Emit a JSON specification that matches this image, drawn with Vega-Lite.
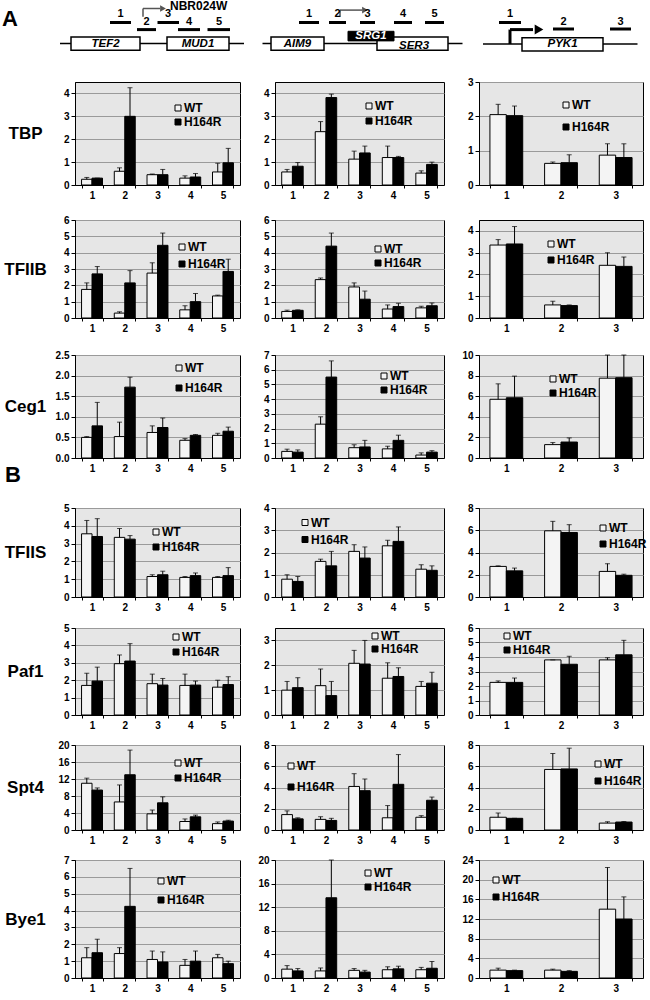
{
"$schema":"https://vega.github.io/schema/vega-lite/v6.json",
"background":"white",
"padding":{"left":2,"top":0,"right":0,"bottom":2},
"columns":3,
"align":"each",
"bounds":"flush",
"spacing":{"row":0,"column":35},
"resolve":{"scale":{"color":"independent","xOffset":"independent"},"legend":{"color":"independent"}},
"datasets":{"d":[
{"p":"TBP1","r":"1","s":"WT","v":0.25,"hi":0.33},{"p":"TBP1","r":"2","s":"WT","v":0.6,"hi":0.75},{"p":"TBP1","r":"3","s":"WT","v":0.45,"hi":0.48},{"p":"TBP1","r":"4","s":"WT","v":0.3,"hi":0.4},{"p":"TBP1","r":"5","s":"WT","v":0.57,"hi":0.95},
{"p":"TBP1","r":"1","s":"H164R","v":0.3,"hi":0.3},{"p":"TBP1","r":"2","s":"H164R","v":3.0,"hi":4.25},{"p":"TBP1","r":"3","s":"H164R","v":0.45,"hi":0.68},{"p":"TBP1","r":"4","s":"H164R","v":0.35,"hi":0.5},{"p":"TBP1","r":"5","s":"H164R","v":0.97,"hi":1.6},
{"p":"TBP2","r":"1","s":"WT","v":0.57,"hi":0.68},{"p":"TBP2","r":"2","s":"WT","v":2.33,"hi":2.77},{"p":"TBP2","r":"3","s":"WT","v":1.13,"hi":1.48},{"p":"TBP2","r":"4","s":"WT","v":1.2,"hi":1.7},{"p":"TBP2","r":"5","s":"WT","v":0.52,"hi":0.62},
{"p":"TBP2","r":"1","s":"H164R","v":0.82,"hi":0.98},{"p":"TBP2","r":"2","s":"H164R","v":3.82,"hi":3.97},{"p":"TBP2","r":"3","s":"H164R","v":1.4,"hi":1.7},{"p":"TBP2","r":"4","s":"H164R","v":1.2,"hi":1.25},{"p":"TBP2","r":"5","s":"H164R","v":0.9,"hi":1.0},
{"p":"TBP3","r":"1","s":"WT","v":2.05,"hi":2.35},{"p":"TBP3","r":"2","s":"WT","v":0.63,"hi":0.67},{"p":"TBP3","r":"3","s":"WT","v":0.87,"hi":1.2},
{"p":"TBP3","r":"1","s":"H164R","v":2.02,"hi":2.3},{"p":"TBP3","r":"2","s":"H164R","v":0.65,"hi":0.88},{"p":"TBP3","r":"3","s":"H164R","v":0.8,"hi":1.2},
{"p":"TFIIB1","r":"1","s":"WT","v":1.75,"hi":2.15},{"p":"TFIIB1","r":"2","s":"WT","v":0.3,"hi":0.38},{"p":"TFIIB1","r":"3","s":"WT","v":2.75,"hi":3.38},{"p":"TFIIB1","r":"4","s":"WT","v":0.5,"hi":0.75},{"p":"TFIIB1","r":"5","s":"WT","v":1.35,"hi":1.4},
{"p":"TFIIB1","r":"1","s":"H164R","v":2.7,"hi":3.15},{"p":"TFIIB1","r":"2","s":"H164R","v":2.15,"hi":2.9},{"p":"TFIIB1","r":"3","s":"H164R","v":4.45,"hi":5.2},{"p":"TFIIB1","r":"4","s":"H164R","v":1.0,"hi":1.5},{"p":"TFIIB1","r":"5","s":"H164R","v":2.85,"hi":3.6},
{"p":"TFIIB2","r":"1","s":"WT","v":0.4,"hi":0.48},{"p":"TFIIB2","r":"2","s":"WT","v":2.35,"hi":2.45},{"p":"TFIIB2","r":"3","s":"WT","v":1.9,"hi":2.15},{"p":"TFIIB2","r":"4","s":"WT","v":0.55,"hi":0.8},{"p":"TFIIB2","r":"5","s":"WT","v":0.62,"hi":0.72},
{"p":"TFIIB2","r":"1","s":"H164R","v":0.47,"hi":0.5},{"p":"TFIIB2","r":"2","s":"H164R","v":4.4,"hi":5.2},{"p":"TFIIB2","r":"3","s":"H164R","v":1.15,"hi":1.65},{"p":"TFIIB2","r":"4","s":"H164R","v":0.7,"hi":0.9},{"p":"TFIIB2","r":"5","s":"H164R","v":0.75,"hi":0.92},
{"p":"TFIIB3","r":"1","s":"WT","v":3.35,"hi":3.6},{"p":"TFIIB3","r":"2","s":"WT","v":0.6,"hi":0.77},{"p":"TFIIB3","r":"3","s":"WT","v":2.42,"hi":3.0},
{"p":"TFIIB3","r":"1","s":"H164R","v":3.4,"hi":4.2},{"p":"TFIIB3","r":"2","s":"H164R","v":0.57,"hi":0.6},{"p":"TFIIB3","r":"3","s":"H164R","v":2.37,"hi":2.8},
{"p":"Ceg11","r":"1","s":"WT","v":0.5,"hi":0.52},{"p":"Ceg11","r":"2","s":"WT","v":0.52,"hi":0.87},{"p":"Ceg11","r":"3","s":"WT","v":0.62,"hi":0.78},{"p":"Ceg11","r":"4","s":"WT","v":0.43,"hi":0.47},{"p":"Ceg11","r":"5","s":"WT","v":0.55,"hi":0.6},
{"p":"Ceg11","r":"1","s":"H164R","v":0.78,"hi":1.35},{"p":"Ceg11","r":"2","s":"H164R","v":1.72,"hi":1.96},{"p":"Ceg11","r":"3","s":"H164R","v":0.74,"hi":0.97},{"p":"Ceg11","r":"4","s":"H164R","v":0.55,"hi":0.57},{"p":"Ceg11","r":"5","s":"H164R","v":0.65,"hi":0.75},
{"p":"Ceg12","r":"1","s":"WT","v":0.45,"hi":0.6},{"p":"Ceg12","r":"2","s":"WT","v":2.3,"hi":2.8},{"p":"Ceg12","r":"3","s":"WT","v":0.7,"hi":0.9},{"p":"Ceg12","r":"4","s":"WT","v":0.62,"hi":0.8},{"p":"Ceg12","r":"5","s":"WT","v":0.2,"hi":0.35},
{"p":"Ceg12","r":"1","s":"H164R","v":0.4,"hi":0.55},{"p":"Ceg12","r":"2","s":"H164R","v":5.5,"hi":6.6},{"p":"Ceg12","r":"3","s":"H164R","v":0.75,"hi":1.2},{"p":"Ceg12","r":"4","s":"H164R","v":1.2,"hi":1.55},{"p":"Ceg12","r":"5","s":"H164R","v":0.4,"hi":0.5},
{"p":"Ceg13","r":"1","s":"WT","v":5.7,"hi":7.2},{"p":"Ceg13","r":"2","s":"WT","v":1.3,"hi":1.5},{"p":"Ceg13","r":"3","s":"WT","v":7.75,"hi":10},
{"p":"Ceg13","r":"1","s":"H164R","v":5.85,"hi":7.95},{"p":"Ceg13","r":"2","s":"H164R","v":1.55,"hi":1.95},{"p":"Ceg13","r":"3","s":"H164R","v":7.8,"hi":10},
{"p":"TFIIS1","r":"1","s":"WT","v":3.55,"hi":4.3},{"p":"TFIIS1","r":"2","s":"WT","v":3.35,"hi":3.85},{"p":"TFIIS1","r":"3","s":"WT","v":1.15,"hi":1.25},{"p":"TFIIS1","r":"4","s":"WT","v":1.1,"hi":1.15},{"p":"TFIIS1","r":"5","s":"WT","v":1.1,"hi":1.15},
{"p":"TFIIS1","r":"1","s":"H164R","v":3.4,"hi":4.4},{"p":"TFIIS1","r":"2","s":"H164R","v":3.25,"hi":3.45},{"p":"TFIIS1","r":"3","s":"H164R","v":1.25,"hi":1.45},{"p":"TFIIS1","r":"4","s":"H164R","v":1.2,"hi":1.35},{"p":"TFIIS1","r":"5","s":"H164R","v":1.2,"hi":1.65},
{"p":"TFIIS2","r":"1","s":"WT","v":0.8,"hi":1.0},{"p":"TFIIS2","r":"2","s":"WT","v":1.6,"hi":1.7},{"p":"TFIIS2","r":"3","s":"WT","v":2.05,"hi":2.35},{"p":"TFIIS2","r":"4","s":"WT","v":2.3,"hi":2.55},{"p":"TFIIS2","r":"5","s":"WT","v":1.25,"hi":1.45},
{"p":"TFIIS2","r":"1","s":"H164R","v":0.7,"hi":0.92},{"p":"TFIIS2","r":"2","s":"H164R","v":1.4,"hi":2.05},{"p":"TFIIS2","r":"3","s":"H164R","v":1.75,"hi":2.25},{"p":"TFIIS2","r":"4","s":"H164R","v":2.5,"hi":3.15},{"p":"TFIIS2","r":"5","s":"H164R","v":1.2,"hi":1.4},
{"p":"TFIIS3","r":"1","s":"WT","v":2.75,"hi":2.8},{"p":"TFIIS3","r":"2","s":"WT","v":5.95,"hi":6.8},{"p":"TFIIS3","r":"3","s":"WT","v":2.3,"hi":3.0},
{"p":"TFIIS3","r":"1","s":"H164R","v":2.35,"hi":2.6},{"p":"TFIIS3","r":"2","s":"H164R","v":5.8,"hi":6.5},{"p":"TFIIS3","r":"3","s":"H164R","v":1.95,"hi":2.05},
{"p":"Paf11","r":"1","s":"WT","v":1.7,"hi":2.4},{"p":"Paf11","r":"2","s":"WT","v":2.95,"hi":3.45},{"p":"Paf11","r":"3","s":"WT","v":1.8,"hi":2.35},{"p":"Paf11","r":"4","s":"WT","v":1.7,"hi":2.35},{"p":"Paf11","r":"5","s":"WT","v":1.6,"hi":2.0},
{"p":"Paf11","r":"1","s":"H164R","v":1.95,"hi":2.75},{"p":"Paf11","r":"2","s":"H164R","v":3.1,"hi":4.1},{"p":"Paf11","r":"3","s":"H164R","v":1.72,"hi":2.1},{"p":"Paf11","r":"4","s":"H164R","v":1.72,"hi":1.95},{"p":"Paf11","r":"5","s":"H164R","v":1.75,"hi":2.2},
{"p":"Paf12","r":"1","s":"WT","v":1.0,"hi":1.35},{"p":"Paf12","r":"2","s":"WT","v":1.18,"hi":1.85},{"p":"Paf12","r":"3","s":"WT","v":2.08,"hi":2.6},{"p":"Paf12","r":"4","s":"WT","v":1.48,"hi":2.1},{"p":"Paf12","r":"5","s":"WT","v":1.15,"hi":1.35},
{"p":"Paf12","r":"1","s":"H164R","v":1.1,"hi":1.5},{"p":"Paf12","r":"2","s":"H164R","v":0.78,"hi":1.35},{"p":"Paf12","r":"3","s":"H164R","v":2.05,"hi":3.0},{"p":"Paf12","r":"4","s":"H164R","v":1.55,"hi":1.9},{"p":"Paf12","r":"5","s":"H164R","v":1.28,"hi":1.72},
{"p":"Paf13","r":"1","s":"WT","v":2.25,"hi":2.35},{"p":"Paf13","r":"2","s":"WT","v":3.8,"hi":3.8},{"p":"Paf13","r":"3","s":"WT","v":3.8,"hi":3.95},
{"p":"Paf13","r":"1","s":"H164R","v":2.25,"hi":2.55},{"p":"Paf13","r":"2","s":"H164R","v":3.5,"hi":4.05},{"p":"Paf13","r":"3","s":"H164R","v":4.15,"hi":5.15},
{"p":"Spt41","r":"1","s":"WT","v":11,"hi":12.2},{"p":"Spt41","r":"2","s":"WT","v":6.6,"hi":10.6},{"p":"Spt41","r":"3","s":"WT","v":3.8,"hi":4.7},{"p":"Spt41","r":"4","s":"WT","v":2.0,"hi":2.6},{"p":"Spt41","r":"5","s":"WT","v":1.5,"hi":1.9},
{"p":"Spt41","r":"1","s":"H164R","v":9.4,"hi":9.9},{"p":"Spt41","r":"2","s":"H164R","v":13,"hi":18.8},{"p":"Spt41","r":"3","s":"H164R","v":6.4,"hi":7.8},{"p":"Spt41","r":"4","s":"H164R","v":3.1,"hi":3.5},{"p":"Spt41","r":"5","s":"H164R","v":2.1,"hi":2.3},
{"p":"Spt42","r":"1","s":"WT","v":1.45,"hi":1.8},{"p":"Spt42","r":"2","s":"WT","v":1.0,"hi":1.25},{"p":"Spt42","r":"3","s":"WT","v":4.1,"hi":5.3},{"p":"Spt42","r":"4","s":"WT","v":1.15,"hi":2.3},{"p":"Spt42","r":"5","s":"WT","v":1.2,"hi":1.35},
{"p":"Spt42","r":"1","s":"H164R","v":1.05,"hi":1.15},{"p":"Spt42","r":"2","s":"H164R","v":0.9,"hi":1.1},{"p":"Spt42","r":"3","s":"H164R","v":3.7,"hi":4.8},{"p":"Spt42","r":"4","s":"H164R","v":4.3,"hi":7.1},{"p":"Spt42","r":"5","s":"H164R","v":2.8,"hi":3.1},
{"p":"Spt43","r":"1","s":"WT","v":1.2,"hi":1.6},{"p":"Spt43","r":"2","s":"WT","v":5.7,"hi":7.2},{"p":"Spt43","r":"3","s":"WT","v":0.65,"hi":0.78},
{"p":"Spt43","r":"1","s":"H164R","v":1.1,"hi":1.1},{"p":"Spt43","r":"2","s":"H164R","v":5.75,"hi":7.7},{"p":"Spt43","r":"3","s":"H164R","v":0.75,"hi":0.8},
{"p":"Bye11","r":"1","s":"WT","v":1.2,"hi":1.8},{"p":"Bye11","r":"2","s":"WT","v":1.45,"hi":1.8},{"p":"Bye11","r":"3","s":"WT","v":1.1,"hi":1.6},{"p":"Bye11","r":"4","s":"WT","v":0.75,"hi":1.1},{"p":"Bye11","r":"5","s":"WT","v":1.2,"hi":1.4},
{"p":"Bye11","r":"1","s":"H164R","v":1.5,"hi":2.3},{"p":"Bye11","r":"2","s":"H164R","v":4.25,"hi":6.5},{"p":"Bye11","r":"3","s":"H164R","v":0.95,"hi":1.55},{"p":"Bye11","r":"4","s":"H164R","v":1.0,"hi":1.6},{"p":"Bye11","r":"5","s":"H164R","v":0.85,"hi":1.0},
{"p":"Bye12","r":"1","s":"WT","v":1.5,"hi":2.1},{"p":"Bye12","r":"2","s":"WT","v":1.2,"hi":1.7},{"p":"Bye12","r":"3","s":"WT","v":1.3,"hi":1.6},{"p":"Bye12","r":"4","s":"WT","v":1.4,"hi":1.9},{"p":"Bye12","r":"5","s":"WT","v":1.4,"hi":1.8},
{"p":"Bye12","r":"1","s":"H164R","v":1.2,"hi":1.6},{"p":"Bye12","r":"2","s":"H164R","v":13.6,"hi":20},{"p":"Bye12","r":"3","s":"H164R","v":1.0,"hi":1.3},{"p":"Bye12","r":"4","s":"H164R","v":1.55,"hi":2.0},{"p":"Bye12","r":"5","s":"H164R","v":1.65,"hi":2.8},
{"p":"Bye13","r":"1","s":"WT","v":1.6,"hi":2.0},{"p":"Bye13","r":"2","s":"WT","v":1.6,"hi":1.8},{"p":"Bye13","r":"3","s":"WT","v":14,"hi":22.5},
{"p":"Bye13","r":"1","s":"H164R","v":1.5,"hi":1.6},{"p":"Bye13","r":"2","s":"H164R","v":1.35,"hi":1.5},{"p":"Bye13","r":"3","s":"H164R","v":12,"hi":16.5}
]},
"concat":[
{"width":165,"height":46,"view":{"fill":null,"stroke":null},
 "encoding":{"x":{"field":"x","type":"quantitative","scale":{"domain":[75,240],"nice":false,"zero":false},"axis":null},"y":{"field":"y","type":"quantitative","scale":{"domain":[0,46],"nice":false,"zero":false,"reverse":true},"axis":null}},
 "layer":[
  {"data":{"values":[{"x":60,"x2":244,"y":43.6,"y2":43.6}]},"mark":{"type":"rule","strokeWidth":1.5,"color":"#000"},"encoding":{"x2":{"field":"x2"},"y2":{"field":"y2"}}},
  {"data":{"values":[{"x":110,"x2":131,"y":22.5,"y2":22.5},{"x":137,"x2":156,"y":29.6,"y2":29.6},{"x":157.5,"x2":179,"y":22.5,"y2":22.5},{"x":178,"x2":200,"y":29.6,"y2":29.6},{"x":207.5,"x2":230,"y":29.6,"y2":29.6}]},"mark":{"type":"rule","strokeWidth":3,"color":"#000"},"encoding":{"x2":{"field":"x2"},"y2":{"field":"y2"}}},
  {"data":{"values":[{"x":143,"x2":143,"y":16.7,"y2":8.5},{"x":143,"x2":160,"y":8.5,"y2":8.5}]},"mark":{"type":"rule","strokeWidth":1.5,"color":"#555"},"encoding":{"x2":{"field":"x2"},"y2":{"field":"y2"}}},
  {"data":{"values":[{"x":163,"y":8.5}]},"mark":{"type":"point","shape":"triangle-right","filled":true,"size":45,"color":"#555","opacity":1}},
  {"data":{"values":[{"x":71,"x2":140,"y":37,"y2":50.2},{"x":167,"x2":229,"y":37,"y2":50.2}]},"mark":{"type":"rect","fill":"#fff","stroke":"#000","strokeWidth":1.5},"encoding":{"x2":{"field":"x2"},"y2":{"field":"y2"}}},
  {"data":{"values":[{"x":105.5,"y":43.8,"t":"TEF2"},{"x":198,"y":43.8,"t":"MUD1"}]},"mark":{"type":"text","fontStyle":"italic","fontWeight":"bold","fontSize":11.5,"font":"Liberation Sans"},"encoding":{"text":{"field":"t"}}},
  {"data":{"values":[{"x":120.5,"y":14.4,"t":"1"},{"x":146.5,"y":22.2,"t":"2"},{"x":168,"y":14.4,"t":"3"},{"x":189,"y":22.2,"t":"4"},{"x":219,"y":22.2,"t":"5"}]},"mark":{"type":"text","fontWeight":"bold","fontSize":11,"font":"Liberation Sans"},"encoding":{"text":{"field":"t"}}},
  {"data":{"values":[{"x":170,"y":6,"t":"NBR024W"}]},"mark":{"type":"text","fontWeight":"bold","fontSize":12,"align":"left","font":"Liberation Sans"},"encoding":{"text":{"field":"t"}}},
  {"data":{"values":[{"x":10,"y":19,"t":"A"}]},"mark":{"type":"text","fontWeight":"bold","fontSize":22,"font":"Liberation Sans"},"encoding":{"text":{"field":"t"}}}
 ]},
{"width":169,"height":46,"view":{"fill":null,"stroke":null},
 "encoding":{"x":{"field":"x","type":"quantitative","scale":{"domain":[275,444],"nice":false,"zero":false},"axis":null},"y":{"field":"y","type":"quantitative","scale":{"domain":[0,46],"nice":false,"zero":false,"reverse":true},"axis":null}},
 "layer":[
  {"data":{"values":[{"x":262.5,"x2":462.5,"y":43.6,"y2":43.6}]},"mark":{"type":"rule","strokeWidth":1.5,"color":"#000"},"encoding":{"x2":{"field":"x2"},"y2":{"field":"y2"}}},
  {"data":{"values":[{"x":299,"x2":319,"y":22.5,"y2":22.5},{"x":329,"x2":346,"y":22.5,"y2":22.5},{"x":360,"x2":375,"y":22.5,"y2":22.5},{"x":394,"x2":412,"y":22.5,"y2":22.5},{"x":425,"x2":444,"y":22.5,"y2":22.5}]},"mark":{"type":"rule","strokeWidth":3,"color":"#000"},"encoding":{"x2":{"field":"x2"},"y2":{"field":"y2"}}},
  {"data":{"values":[{"x":340,"x2":340,"y":16.7,"y2":10.1},{"x":340,"x2":362,"y":10.1,"y2":10.1}]},"mark":{"type":"rule","strokeWidth":1.5,"color":"#555"},"encoding":{"x2":{"field":"x2"},"y2":{"field":"y2"}}},
  {"data":{"values":[{"x":365,"y":10.1}]},"mark":{"type":"point","shape":"triangle-right","filled":true,"size":45,"color":"#555","opacity":1}},
  {"data":{"values":[{"x":271,"x2":324,"y":37,"y2":50.2},{"x":377,"x2":448,"y":37,"y2":50.2}]},"mark":{"type":"rect","fill":"#fff","stroke":"#000","strokeWidth":1.5},"encoding":{"x2":{"field":"x2"},"y2":{"field":"y2"}}},
  {"data":{"values":[{"x":348,"x2":394,"y":31.3,"y2":40.9}]},"mark":{"type":"rect","fill":"#000","stroke":"#000","strokeWidth":1},"encoding":{"x2":{"field":"x2"},"y2":{"field":"y2"}}},
  {"data":{"values":[{"x":297.5,"y":43.8,"t":"AIM9"},{"x":414,"y":45.5,"t":"SER3"}]},"mark":{"type":"text","fontStyle":"italic","fontWeight":"bold","fontSize":11.5,"font":"Liberation Sans"},"encoding":{"text":{"field":"t"}}},
  {"data":{"values":[{"x":371,"y":36.3,"t":"SRG1"}]},"mark":{"type":"text","fontStyle":"italic","fontWeight":"bold","fontSize":11.5,"color":"#fff","font":"Liberation Sans"},"encoding":{"text":{"field":"t"}}},
  {"data":{"values":[{"x":309,"y":14.4,"t":"1"},{"x":337.5,"y":14.4,"t":"2"},{"x":367.5,"y":14.4,"t":"3"},{"x":403,"y":14.4,"t":"4"},{"x":434.5,"y":14.4,"t":"5"}]},"mark":{"type":"text","fontWeight":"bold","fontSize":11,"font":"Liberation Sans"},"encoding":{"text":{"field":"t"}}}
 ]},
{"width":164,"height":46,"view":{"fill":null,"stroke":null},
 "encoding":{"x":{"field":"x","type":"quantitative","scale":{"domain":[479,643],"nice":false,"zero":false},"axis":null},"y":{"field":"y","type":"quantitative","scale":{"domain":[0,46],"nice":false,"zero":false,"reverse":true},"axis":null}},
 "layer":[
  {"data":{"values":[{"x":483,"x2":637.5,"y":44,"y2":44}]},"mark":{"type":"rule","strokeWidth":1.5,"color":"#000"},"encoding":{"x2":{"field":"x2"},"y2":{"field":"y2"}}},
  {"data":{"values":[{"x":499,"x2":521,"y":22.5,"y2":22.5},{"x":553,"x2":574,"y":29,"y2":29},{"x":610,"x2":631,"y":29,"y2":29}]},"mark":{"type":"rule","strokeWidth":3,"color":"#000"},"encoding":{"x2":{"field":"x2"},"y2":{"field":"y2"}}},
  {"data":{"values":[{"x":522,"x2":603,"y":37.8,"y2":51}]},"mark":{"type":"rect","fill":"#fff","stroke":"#000","strokeWidth":1.5},"encoding":{"x2":{"field":"x2"},"y2":{"field":"y2"}}},
  {"data":{"values":[{"x":510,"x2":510,"y":44,"y2":29.6},{"x":510,"x2":533,"y":29.6,"y2":29.6}]},"mark":{"type":"rule","strokeWidth":3,"color":"#000"},"encoding":{"x2":{"field":"x2"},"y2":{"field":"y2"}}},
  {"data":{"values":[{"x":539,"y":29.6}]},"mark":{"type":"point","shape":"triangle-right","filled":true,"size":100,"color":"#000","opacity":1}},
  {"data":{"values":[{"x":562.5,"y":44.4,"t":"PYK1"}]},"mark":{"type":"text","fontStyle":"italic","fontWeight":"bold","fontSize":11.5,"font":"Liberation Sans"},"encoding":{"text":{"field":"t"}}},
  {"data":{"values":[{"x":510,"y":14.4,"t":"1"},{"x":563.5,"y":21.8,"t":"2"},{"x":620.5,"y":21.8,"t":"3"}]},"mark":{"type":"text","fontWeight":"bold","fontSize":11,"font":"Liberation Sans"},"encoding":{"text":{"field":"t"}}}
 ]},
{"width":1,"height":36,"view":{"fill":null,"stroke":null},"data":{"values":[]},"mark":"point","encoding":{}},
{"width":1,"height":36,"view":{"fill":null,"stroke":null},"data":{"values":[]},"mark":"point","encoding":{}},
{"width":1,"height":36,"view":{"fill":null,"stroke":null},"data":{"values":[]},"mark":"point","encoding":{}},
{"width":165,"height":103,"data":{"name":"d"},"transform":[{"filter":"datum.p=='TBP1'"}],
 "encoding":{"x":{"field":"r","type":"nominal","title":null,"scale":{"paddingInner":0.36,"paddingOuter":0.2}},"xOffset":{"field":"s","sort":["WT","H164R"]},"y":{"field":"v","type":"quantitative","scale":{"domain":[0,4.5],"nice":false},"axis":{"values":[0,1,2,3,4],"title":"TBP","titleY":51.5}}},
 "layer":[{"mark":"bar","encoding":{"color":{"field":"s","type":"nominal","scale":{"domain":["WT","H164R"],"range":["#f4f4f4","#000000"]},"legend":{"title":null,"legendX":97,"legendY":20,"rowPadding":2}}}},{"mark":"rule","encoding":{"y2":{"field":"hi"}}},{"mark":{"type":"tick","size":5},"encoding":{"y":{"field":"hi","type":"quantitative"}}}]},
{"width":169,"height":103,"data":{"name":"d"},"transform":[{"filter":"datum.p=='TBP2'"}],
 "encoding":{"x":{"field":"r","type":"nominal","title":null,"scale":{"paddingInner":0.36,"paddingOuter":0.2}},"xOffset":{"field":"s","sort":["WT","H164R"]},"y":{"field":"v","type":"quantitative","scale":{"domain":[0,4.5],"nice":false},"axis":{"values":[0,1,2,3,4],"title":null}}},
 "layer":[{"mark":"bar","encoding":{"color":{"field":"s","type":"nominal","scale":{"domain":["WT","H164R"],"range":["#f4f4f4","#000000"]},"legend":{"title":null,"legendX":88,"legendY":18,"rowPadding":3}}}},{"mark":"rule","encoding":{"y2":{"field":"hi"}}},{"mark":{"type":"tick","size":5},"encoding":{"y":{"field":"hi","type":"quantitative"}}}]},
{"width":164,"height":103,"data":{"name":"d"},"transform":[{"filter":"datum.p=='TBP3'"}],
 "encoding":{"x":{"field":"r","type":"nominal","title":null,"scale":{"paddingInner":0.4,"paddingOuter":0.2}},"xOffset":{"field":"s","sort":["WT","H164R"]},"y":{"field":"v","type":"quantitative","scale":{"domain":[0,3],"nice":false},"axis":{"values":[0,1,2,3],"title":null}}},
 "layer":[{"mark":"bar","encoding":{"color":{"field":"s","type":"nominal","scale":{"domain":["WT","H164R"],"range":["#f4f4f4","#000000"]},"legend":{"title":null,"legendX":81,"legendY":17,"rowPadding":10}}}},{"mark":"rule","encoding":{"y2":{"field":"hi"}}},{"mark":{"type":"tick","size":5},"encoding":{"y":{"field":"hi","type":"quantitative"}}}]},
{"width":1,"height":35,"view":{"fill":null,"stroke":null},"data":{"values":[]},"mark":"point","encoding":{}},
{"width":1,"height":35,"view":{"fill":null,"stroke":null},"data":{"values":[]},"mark":"point","encoding":{}},
{"width":1,"height":35,"view":{"fill":null,"stroke":null},"data":{"values":[]},"mark":"point","encoding":{}},
{"width":165,"height":98,"data":{"name":"d"},"transform":[{"filter":"datum.p=='TFIIB1'"}],
 "encoding":{"x":{"field":"r","type":"nominal","title":null,"scale":{"paddingInner":0.36,"paddingOuter":0.2}},"xOffset":{"field":"s","sort":["WT","H164R"]},"y":{"field":"v","type":"quantitative","scale":{"domain":[0,6],"nice":false},"axis":{"values":[0,1,2,3,4,5,6],"title":"TFIIB","titleY":49}}},
 "layer":[{"mark":"bar","encoding":{"color":{"field":"s","type":"nominal","scale":{"domain":["WT","H164R"],"range":["#f4f4f4","#000000"]},"legend":{"title":null,"legendX":101,"legendY":21,"rowPadding":5}}}},{"mark":"rule","encoding":{"y2":{"field":"hi"}}},{"mark":{"type":"tick","size":5},"encoding":{"y":{"field":"hi","type":"quantitative"}}}]},
{"width":169,"height":98,"data":{"name":"d"},"transform":[{"filter":"datum.p=='TFIIB2'"}],
 "encoding":{"x":{"field":"r","type":"nominal","title":null,"scale":{"paddingInner":0.36,"paddingOuter":0.2}},"xOffset":{"field":"s","sort":["WT","H164R"]},"y":{"field":"v","type":"quantitative","scale":{"domain":[0,6],"nice":false},"axis":{"values":[0,1,2,3,4,5,6],"title":null}}},
 "layer":[{"mark":"bar","encoding":{"color":{"field":"s","type":"nominal","scale":{"domain":["WT","H164R"],"range":["#f4f4f4","#000000"]},"legend":{"title":null,"legendX":97,"legendY":23,"rowPadding":2}}}},{"mark":"rule","encoding":{"y2":{"field":"hi"}}},{"mark":{"type":"tick","size":5},"encoding":{"y":{"field":"hi","type":"quantitative"}}}]},
{"width":164,"height":98,"data":{"name":"d"},"transform":[{"filter":"datum.p=='TFIIB3'"}],
 "encoding":{"x":{"field":"r","type":"nominal","title":null,"scale":{"paddingInner":0.4,"paddingOuter":0.2}},"xOffset":{"field":"s","sort":["WT","H164R"]},"y":{"field":"v","type":"quantitative","scale":{"domain":[0,4.5],"nice":false},"axis":{"values":[0,1,2,3,4],"title":null}}},
 "layer":[{"mark":"bar","encoding":{"color":{"field":"s","type":"nominal","scale":{"domain":["WT","H164R"],"range":["#f4f4f4","#000000"]},"legend":{"title":null,"legendX":66,"legendY":18,"rowPadding":4}}}},{"mark":"rule","encoding":{"y2":{"field":"hi"}}},{"mark":{"type":"tick","size":5},"encoding":{"y":{"field":"hi","type":"quantitative"}}}]},
{"width":1,"height":37,"view":{"fill":null,"stroke":null},"data":{"values":[]},"mark":"point","encoding":{}},
{"width":1,"height":37,"view":{"fill":null,"stroke":null},"data":{"values":[]},"mark":"point","encoding":{}},
{"width":1,"height":37,"view":{"fill":null,"stroke":null},"data":{"values":[]},"mark":"point","encoding":{}},
{"width":165,"height":103,"data":{"name":"d"},"transform":[{"filter":"datum.p=='Ceg11'"}],
 "encoding":{"x":{"field":"r","type":"nominal","title":null,"scale":{"paddingInner":0.36,"paddingOuter":0.2}},"xOffset":{"field":"s","sort":["WT","H164R"]},"y":{"field":"v","type":"quantitative","scale":{"domain":[0,2.5],"nice":false},"axis":{"values":[0,0.5,1,1.5,2,2.5],"format":".1f","title":"Ceg1","titleY":51.5}}},
 "layer":[{"mark":"bar","encoding":{"color":{"field":"s","type":"nominal","scale":{"domain":["WT","H164R"],"range":["#f4f4f4","#000000"]},"legend":{"title":null,"legendX":98,"legendY":7,"rowPadding":8}}}},{"mark":"rule","encoding":{"y2":{"field":"hi"}}},{"mark":{"type":"tick","size":5},"encoding":{"y":{"field":"hi","type":"quantitative"}}}]},
{"width":169,"height":103,"data":{"name":"d"},"transform":[{"filter":"datum.p=='Ceg12'"}],
 "encoding":{"x":{"field":"r","type":"nominal","title":null,"scale":{"paddingInner":0.36,"paddingOuter":0.2}},"xOffset":{"field":"s","sort":["WT","H164R"]},"y":{"field":"v","type":"quantitative","scale":{"domain":[0,7],"nice":false},"axis":{"values":[0,1,2,3,4,5,6,7],"title":null}}},
 "layer":[{"mark":"bar","encoding":{"color":{"field":"s","type":"nominal","scale":{"domain":["WT","H164R"],"range":["#f4f4f4","#000000"]},"legend":{"title":null,"legendX":103,"legendY":15,"rowPadding":2}}}},{"mark":"rule","encoding":{"y2":{"field":"hi"}}},{"mark":{"type":"tick","size":5},"encoding":{"y":{"field":"hi","type":"quantitative"}}}]},
{"width":164,"height":103,"data":{"name":"d"},"transform":[{"filter":"datum.p=='Ceg13'"}],
 "encoding":{"x":{"field":"r","type":"nominal","title":null,"scale":{"paddingInner":0.4,"paddingOuter":0.2}},"xOffset":{"field":"s","sort":["WT","H164R"]},"y":{"field":"v","type":"quantitative","scale":{"domain":[0,10],"nice":false},"axis":{"values":[0,2,4,6,8,10],"title":null}}},
 "layer":[{"mark":"bar","encoding":{"color":{"field":"s","type":"nominal","scale":{"domain":["WT","H164R"],"range":["#f4f4f4","#000000"]},"legend":{"title":null,"legendX":68,"legendY":18,"rowPadding":2}}}},{"mark":"rule","encoding":{"y2":{"field":"hi"}}},{"mark":{"type":"tick","size":5},"encoding":{"y":{"field":"hi","type":"quantitative"}}}]},
{"width":1,"height":50,"view":{"fill":null,"stroke":null},"data":{"values":[]},"mark":"point","encoding":{}},
{"width":1,"height":50,"view":{"fill":null,"stroke":null},"data":{"values":[]},"mark":"point","encoding":{}},
{"width":1,"height":50,"view":{"fill":null,"stroke":null},"data":{"values":[]},"mark":"point","encoding":{}},
{"width":165,"height":89,"title":{"text":"B","anchor":"start","frame":"group","dx":-70,"offset":16},"data":{"name":"d"},"transform":[{"filter":"datum.p=='TFIIS1'"}],
 "encoding":{"x":{"field":"r","type":"nominal","title":null,"scale":{"paddingInner":0.36,"paddingOuter":0.2}},"xOffset":{"field":"s","sort":["WT","H164R"]},"y":{"field":"v","type":"quantitative","scale":{"domain":[0,5],"nice":false},"axis":{"values":[0,1,2,3,4,5],"title":"TFIIS","titleY":44.5}}},
 "layer":[{"mark":"bar","encoding":{"color":{"field":"s","type":"nominal","scale":{"domain":["WT","H164R"],"range":["#f4f4f4","#000000"]},"legend":{"title":null,"legendX":75,"legendY":18,"rowPadding":3}}}},{"mark":"rule","encoding":{"y2":{"field":"hi"}}},{"mark":{"type":"tick","size":5},"encoding":{"y":{"field":"hi","type":"quantitative"}}}]},
{"width":169,"height":89,"data":{"name":"d"},"transform":[{"filter":"datum.p=='TFIIS2'"}],
 "encoding":{"x":{"field":"r","type":"nominal","title":null,"scale":{"paddingInner":0.36,"paddingOuter":0.2}},"xOffset":{"field":"s","sort":["WT","H164R"]},"y":{"field":"v","type":"quantitative","scale":{"domain":[0,4],"nice":false},"axis":{"values":[0,1,2,3,4],"title":null}}},
 "layer":[{"mark":"bar","encoding":{"color":{"field":"s","type":"nominal","scale":{"domain":["WT","H164R"],"range":["#f4f4f4","#000000"]},"legend":{"title":null,"legendX":24,"legendY":8.5,"rowPadding":5}}}},{"mark":"rule","encoding":{"y2":{"field":"hi"}}},{"mark":{"type":"tick","size":5},"encoding":{"y":{"field":"hi","type":"quantitative"}}}]},
{"width":164,"height":89,"data":{"name":"d"},"transform":[{"filter":"datum.p=='TFIIS3'"}],
 "encoding":{"x":{"field":"r","type":"nominal","title":null,"scale":{"paddingInner":0.4,"paddingOuter":0.2}},"xOffset":{"field":"s","sort":["WT","H164R"]},"y":{"field":"v","type":"quantitative","scale":{"domain":[0,8],"nice":false},"axis":{"values":[0,2,4,6,8],"title":null}}},
 "layer":[{"mark":"bar","encoding":{"color":{"field":"s","type":"nominal","scale":{"domain":["WT","H164R"],"range":["#f4f4f4","#000000"]},"legend":{"title":null,"legendX":118,"legendY":14,"rowPadding":4}}}},{"mark":"rule","encoding":{"y2":{"field":"hi"}}},{"mark":{"type":"tick","size":5},"encoding":{"y":{"field":"hi","type":"quantitative"}}}]},
{"width":1,"height":31,"view":{"fill":null,"stroke":null},"data":{"values":[]},"mark":"point","encoding":{}},
{"width":1,"height":31,"view":{"fill":null,"stroke":null},"data":{"values":[]},"mark":"point","encoding":{}},
{"width":1,"height":31,"view":{"fill":null,"stroke":null},"data":{"values":[]},"mark":"point","encoding":{}},
{"width":165,"height":87,"data":{"name":"d"},"transform":[{"filter":"datum.p=='Paf11'"}],
 "encoding":{"x":{"field":"r","type":"nominal","title":null,"scale":{"paddingInner":0.36,"paddingOuter":0.2}},"xOffset":{"field":"s","sort":["WT","H164R"]},"y":{"field":"v","type":"quantitative","scale":{"domain":[0,5],"nice":false},"axis":{"values":[0,1,2,3,4,5],"title":"Paf1","titleY":43.5}}},
 "layer":[{"mark":"bar","encoding":{"color":{"field":"s","type":"nominal","scale":{"domain":["WT","H164R"],"range":["#f4f4f4","#000000"]},"legend":{"title":null,"legendX":95,"legendY":3,"rowPadding":3}}}},{"mark":"rule","encoding":{"y2":{"field":"hi"}}},{"mark":{"type":"tick","size":5},"encoding":{"y":{"field":"hi","type":"quantitative"}}}]},
{"width":169,"height":87,"data":{"name":"d"},"transform":[{"filter":"datum.p=='Paf12'"}],
 "encoding":{"x":{"field":"r","type":"nominal","title":null,"scale":{"paddingInner":0.36,"paddingOuter":0.2}},"xOffset":{"field":"s","sort":["WT","H164R"]},"y":{"field":"v","type":"quantitative","scale":{"domain":[0,3.5],"nice":false},"axis":{"values":[0,1,2,3],"title":null}}},
 "layer":[{"mark":"bar","encoding":{"color":{"field":"s","type":"nominal","scale":{"domain":["WT","H164R"],"range":["#f4f4f4","#000000"]},"legend":{"title":null,"legendX":94,"legendY":2,"rowPadding":1}}}},{"mark":"rule","encoding":{"y2":{"field":"hi"}}},{"mark":{"type":"tick","size":5},"encoding":{"y":{"field":"hi","type":"quantitative"}}}]},
{"width":164,"height":87,"data":{"name":"d"},"transform":[{"filter":"datum.p=='Paf13'"}],
 "encoding":{"x":{"field":"r","type":"nominal","title":null,"scale":{"paddingInner":0.4,"paddingOuter":0.2}},"xOffset":{"field":"s","sort":["WT","H164R"]},"y":{"field":"v","type":"quantitative","scale":{"domain":[0,6],"nice":false},"axis":{"values":[0,1,2,3,4,5,6],"title":null}}},
 "layer":[{"mark":"bar","encoding":{"color":{"field":"s","type":"nominal","scale":{"domain":["WT","H164R"],"range":["#f4f4f4","#000000"]},"legend":{"title":null,"legendX":22,"legendY":2,"rowPadding":2}}}},{"mark":"rule","encoding":{"y2":{"field":"hi"}}},{"mark":{"type":"tick","size":5},"encoding":{"y":{"field":"hi","type":"quantitative"}}}]},
{"width":1,"height":30,"view":{"fill":null,"stroke":null},"data":{"values":[]},"mark":"point","encoding":{}},
{"width":1,"height":30,"view":{"fill":null,"stroke":null},"data":{"values":[]},"mark":"point","encoding":{}},
{"width":1,"height":30,"view":{"fill":null,"stroke":null},"data":{"values":[]},"mark":"point","encoding":{}},
{"width":165,"height":85,"data":{"name":"d"},"transform":[{"filter":"datum.p=='Spt41'"}],
 "encoding":{"x":{"field":"r","type":"nominal","title":null,"scale":{"paddingInner":0.36,"paddingOuter":0.2}},"xOffset":{"field":"s","sort":["WT","H164R"]},"y":{"field":"v","type":"quantitative","scale":{"domain":[0,20],"nice":false},"axis":{"values":[0,4,8,12,16,20],"title":"Spt4","titleY":42.5}}},
 "layer":[{"mark":"bar","encoding":{"color":{"field":"s","type":"nominal","scale":{"domain":["WT","H164R"],"range":["#f4f4f4","#000000"]},"legend":{"title":null,"legendX":97,"legendY":12,"rowPadding":3}}}},{"mark":"rule","encoding":{"y2":{"field":"hi"}}},{"mark":{"type":"tick","size":5},"encoding":{"y":{"field":"hi","type":"quantitative"}}}]},
{"width":169,"height":85,"data":{"name":"d"},"transform":[{"filter":"datum.p=='Spt42'"}],
 "encoding":{"x":{"field":"r","type":"nominal","title":null,"scale":{"paddingInner":0.36,"paddingOuter":0.2}},"xOffset":{"field":"s","sort":["WT","H164R"]},"y":{"field":"v","type":"quantitative","scale":{"domain":[0,8],"nice":false},"axis":{"values":[0,2,4,6,8],"title":null}}},
 "layer":[{"mark":"bar","encoding":{"color":{"field":"s","type":"nominal","scale":{"domain":["WT","H164R"],"range":["#f4f4f4","#000000"]},"legend":{"title":null,"legendX":10,"legendY":15,"rowPadding":9}}}},{"mark":"rule","encoding":{"y2":{"field":"hi"}}},{"mark":{"type":"tick","size":5},"encoding":{"y":{"field":"hi","type":"quantitative"}}}]},
{"width":164,"height":85,"data":{"name":"d"},"transform":[{"filter":"datum.p=='Spt43'"}],
 "encoding":{"x":{"field":"r","type":"nominal","title":null,"scale":{"paddingInner":0.4,"paddingOuter":0.2}},"xOffset":{"field":"s","sort":["WT","H164R"]},"y":{"field":"v","type":"quantitative","scale":{"domain":[0,8],"nice":false},"axis":{"values":[0,2,4,6,8],"title":null}}},
 "layer":[{"mark":"bar","encoding":{"color":{"field":"s","type":"nominal","scale":{"domain":["WT","H164R"],"range":["#f4f4f4","#000000"]},"legend":{"title":null,"legendX":113,"legendY":13,"rowPadding":5}}}},{"mark":"rule","encoding":{"y2":{"field":"hi"}}},{"mark":{"type":"tick","size":5},"encoding":{"y":{"field":"hi","type":"quantitative"}}}]},
{"width":1,"height":30,"view":{"fill":null,"stroke":null},"data":{"values":[]},"mark":"point","encoding":{}},
{"width":1,"height":30,"view":{"fill":null,"stroke":null},"data":{"values":[]},"mark":"point","encoding":{}},
{"width":1,"height":30,"view":{"fill":null,"stroke":null},"data":{"values":[]},"mark":"point","encoding":{}},
{"width":165,"height":118,"data":{"name":"d"},"transform":[{"filter":"datum.p=='Bye11'"}],
 "encoding":{"x":{"field":"r","type":"nominal","title":null,"scale":{"paddingInner":0.36,"paddingOuter":0.2}},"xOffset":{"field":"s","sort":["WT","H164R"]},"y":{"field":"v","type":"quantitative","scale":{"domain":[0,7],"nice":false},"axis":{"values":[0,1,2,3,4,5,6,7],"title":"Bye1","titleY":59}}},
 "layer":[{"mark":"bar","encoding":{"color":{"field":"s","type":"nominal","scale":{"domain":["WT","H164R"],"range":["#f4f4f4","#000000"]},"legend":{"title":null,"legendX":80,"legendY":15,"rowPadding":7}}}},{"mark":"rule","encoding":{"y2":{"field":"hi"}}},{"mark":{"type":"tick","size":5},"encoding":{"y":{"field":"hi","type":"quantitative"}}}]},
{"width":169,"height":118,"data":{"name":"d"},"transform":[{"filter":"datum.p=='Bye12'"}],
 "encoding":{"x":{"field":"r","type":"nominal","title":null,"scale":{"paddingInner":0.36,"paddingOuter":0.2}},"xOffset":{"field":"s","sort":["WT","H164R"]},"y":{"field":"v","type":"quantitative","scale":{"domain":[0,20],"nice":false},"axis":{"values":[0,4,8,12,16,20],"title":null}}},
 "layer":[{"mark":"bar","encoding":{"color":{"field":"s","type":"nominal","scale":{"domain":["WT","H164R"],"range":["#f4f4f4","#000000"]},"legend":{"title":null,"legendX":87,"legendY":7,"rowPadding":2}}}},{"mark":"rule","encoding":{"y2":{"field":"hi"}}},{"mark":{"type":"tick","size":5},"encoding":{"y":{"field":"hi","type":"quantitative"}}}]},
{"width":164,"height":118,"data":{"name":"d"},"transform":[{"filter":"datum.p=='Bye13'"}],
 "encoding":{"x":{"field":"r","type":"nominal","title":null,"scale":{"paddingInner":0.4,"paddingOuter":0.2}},"xOffset":{"field":"s","sort":["WT","H164R"]},"y":{"field":"v","type":"quantitative","scale":{"domain":[0,24],"nice":false},"axis":{"values":[0,4,8,12,16,20,24],"title":null}}},
 "layer":[{"mark":"bar","encoding":{"color":{"field":"s","type":"nominal","scale":{"domain":["WT","H164R"],"range":["#f4f4f4","#000000"]},"legend":{"title":null,"legendX":11,"legendY":14,"rowPadding":5}}}},{"mark":"rule","encoding":{"y2":{"field":"hi"}}},{"mark":{"type":"tick","size":5},"encoding":{"y":{"field":"hi","type":"quantitative"}}}]}
],
"config":{
 "font":"Liberation Sans",
 "view":{"fill":"#e6e6e6","stroke":"#000","strokeWidth":1},
 "axis":{"labelFont":"Liberation Sans","labelFontWeight":"bold","labelFontSize":10,"labelColor":"#000","domainColor":"#000","tickColor":"#000","tickSize":4,"gridColor":"#9a9a9a","gridWidth":1,"titleFont":"Liberation Sans","titleFontSize":17,"titleFontWeight":"bold","titleColor":"#000"},
 "axisX":{"labelAngle":0,"tickBand":"extent","grid":false,"labelPadding":2,"tickSize":3},
 "axisY":{"grid":true,"labelPadding":2,"titleAngle":0,"titleAlign":"center","titleBaseline":"middle","titleX":-50},
 "legend":{"orient":"none","symbolType":"square","symbolSize":36,"symbolStrokeColor":"#000","symbolStrokeWidth":1,"labelFont":"Liberation Sans","labelFontSize":12,"labelFontWeight":"bold","labelColor":"#000","labelOffset":0,"padding":0,"rowPadding":3},
 "bar":{"stroke":"#000","strokeWidth":1},
 "rule":{"color":"#000"},
 "tick":{"color":"#000","thickness":1},
 "title":{"font":"Liberation Sans","fontSize":22,"fontWeight":"bold","color":"#000"}
}
}
